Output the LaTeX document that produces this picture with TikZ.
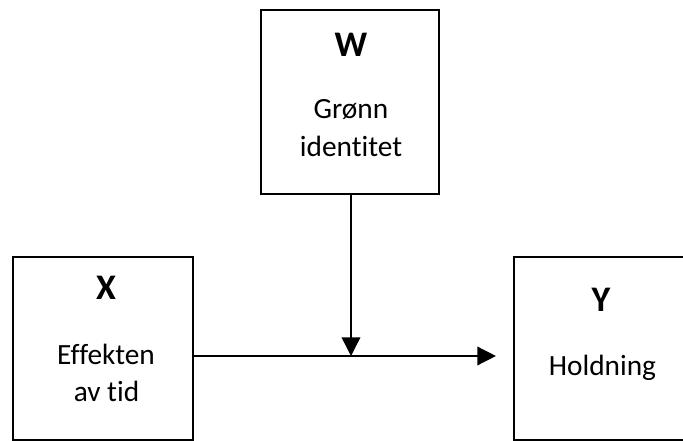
\documentclass[tikz,border=0pt]{standalone}
\usepackage{fontspec}
\setmainfont{Carlito}[Ligatures=NoCommon]
\usetikzlibrary{arrows.meta}
\begin{document}
\begin{tikzpicture}[x=0.75pt,y=-0.75pt,
  box/.style={draw=black,line width=1.6pt,rectangle,inner sep=0pt},
  varlab/.style={anchor=base,font=\fontsize{27}{30}\selectfont\bfseries},
  txt/.style={anchor=base,font=\fontsize{22}{26}\selectfont},
  conn/.style={line width=1.1pt,-{Triangle[length=14pt,width=14pt]}}]
\useasboundingbox (0,0) rectangle (683,441);
\clip (0,0) rectangle (683,441);
\node[box,minimum width=133.5pt,minimum height=138pt] (W) at (350,102) {};
\node[box,minimum width=135pt,minimum height=137.25pt] (X) at (103,348.5) {};
\node[box,minimum width=135pt,minimum height=137.25pt] (Y) at (604,348.5) {};
\node[varlab] (wl) at (351,57) {W};
\node[txt] (w1) at (351,119) {Grønn};
\node[txt] (w2) at (351,157) {identitet};
\node[varlab] (xl) at (106,300) {X};
\node[txt] (x1) at (106,365) {Effekten};
\node[txt] (x2) at (106.5,402) {av tid};
\node[varlab] (yl) at (601,312) {Y};
\node[txt] (y1) at (602.5,376) {Holdning};
\coordinate (m) at (351,356);
\draw[conn,shorten >=12.75pt] (X.east |- m) -- (Y.west |- m);
\draw[conn] (W.south -| m) -- (m);
\end{tikzpicture}
\end{document}
